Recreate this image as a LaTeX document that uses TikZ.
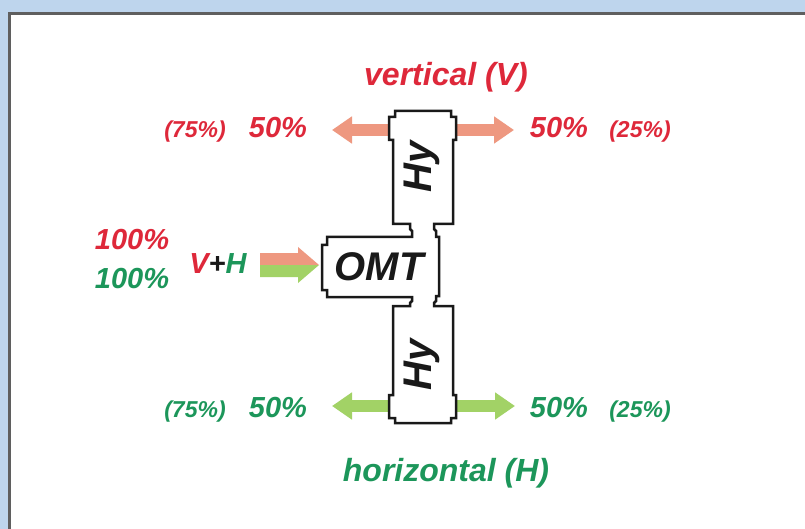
\documentclass[tikz,border=0pt]{standalone}
\usepackage{fontspec}
\setmainfont{Liberation Sans}
\usetikzlibrary{arrows.meta}
\definecolor{bgblue}{RGB}{190,213,237}
\definecolor{frame}{RGB}{95,95,95}
\definecolor{vred}{RGB}{222,40,58}
\definecolor{hgreen}{RGB}{28,150,90}
\definecolor{parrow}{RGB}{238,152,128}
\definecolor{garrow}{RGB}{162,210,102}
\definecolor{ink}{RGB}{25,25,25}
\begin{document}
\begin{tikzpicture}[x=1pt,y=-1pt,
  lbl/.style={inner sep=0pt, anchor=base, font=\bfseries\itshape},
  big/.style={lbl, font=\bfseries\itshape\fontsize{32}{36}\selectfont},
  mid/.style={lbl, font=\bfseries\itshape\fontsize{29}{33}\selectfont},
  small/.style={lbl, font=\bfseries\itshape\fontsize{23}{27}\selectfont},
  huge/.style={inner sep=0pt, font=\bfseries\itshape\fontsize{40}{44}\selectfont, text=ink},
  fatp/.style={line width=12pt, parrow, -{Triangle[width=26pt,length=20pt]}},
  fatg/.style={line width=12pt, garrow, -{Triangle[width=26pt,length=20pt]}},
  wg/.style={draw=ink, line width=2.5pt, fill=white, line join=miter}
]
\useasboundingbox (0,0) rectangle (805,529);
\fill[bgblue] (0,0) rectangle (805,529);
\fill[white] (8,12) rectangle (805,529);
\draw[frame, line width=3pt] (9.5,529) -- (9.5,13.5) -- (805,13.5);

% named connector ends
\coordinate (ulS) at (390,130);
\coordinate (ulE) at (332,130);
\coordinate (urS) at (455,130);
\coordinate (urE) at (514,130);
\coordinate (llS) at (390,406);
\coordinate (llE) at (332,406);
\coordinate (lrS) at (455,406);
\coordinate (lrE) at (515,406);

\draw[fatp] (ulS) -- (ulE);
\draw[fatp] (urS) -- (urE);
\draw[fatg] (llS) -- (llE);
\draw[fatg] (lrS) -- (lrE);

% input arrow (two halves)
\fill[parrow] (260,253) -- (298,253) -- (298,247) -- (319,265) -- (260,265) -- cycle;
\fill[garrow] (260,265) -- (319,265) -- (298,283) -- (298,277) -- (260,277) -- cycle;

% waveguide outline (Hy - OMT - Hy)
\draw[wg] (395,111) -- (451,111) -- (451,117) -- (456,117) -- (456,140) -- (453,140)
  -- (453,224) -- (434,224) -- (434,229) -- (436,231) -- (436,237) -- (439,237)
  -- (439,296) -- (436,296) -- (436,301) -- (434,303) -- (434,306) -- (453,306)
  -- (453,395) -- (456,395) -- (456,418) -- (451,418) -- (451,423) -- (395,423)
  -- (395,418) -- (389,418) -- (389,395) -- (393,395) -- (393,306) -- (410,306)
  -- (410,303) -- (412,301) -- (412,297) -- (327,297) -- (327,290) -- (322,290)
  -- (322,245) -- (327,245) -- (327,237) -- (412,237) -- (412,231) -- (410,229)
  -- (410,224) -- (393,224) -- (393,140) -- (389,140) -- (389,117) -- (395,117)
  -- cycle;

\node[huge, rotate=90] (hy1) at (422,167) {Hy};
\node[huge, rotate=90] (hy2) at (422,365) {Hy};
\node[huge, anchor=base] (omt) at (379,280) {OMT};

% labels
\node[big, text=vred] (vlab) at (446,86) {vertical (V)};
\node[big, text=hgreen] (hlab) at (446,481) {horizontal (H)};

\node[small, text=vred] (tl2) at (195,138) {(75\%)};
\node[mid, text=vred] (tl1) at (278,138) {50\%};
\node[mid, text=vred] (tr1) at (559,138) {50\%};
\node[small, text=vred] (tr2) at (640,138) {(25\%)};

\node[small, text=hgreen] (bl2) at (195,417) {(75\%)};
\node[mid, text=hgreen] (bl1) at (278,417) {50\%};
\node[mid, text=hgreen] (br1) at (559,417) {50\%};
\node[small, text=hgreen] (br2) at (640,417) {(25\%)};

\node[mid, text=vred] (inr) at (132,250) {100\%};
\node[mid, text=hgreen] (ing) at (132,288) {100\%};
\node[mid] (vh) at (218,273) {\textcolor{vred}{V}\textcolor{ink}{+}\textcolor{hgreen}{H}};
\end{tikzpicture}
\end{document}
